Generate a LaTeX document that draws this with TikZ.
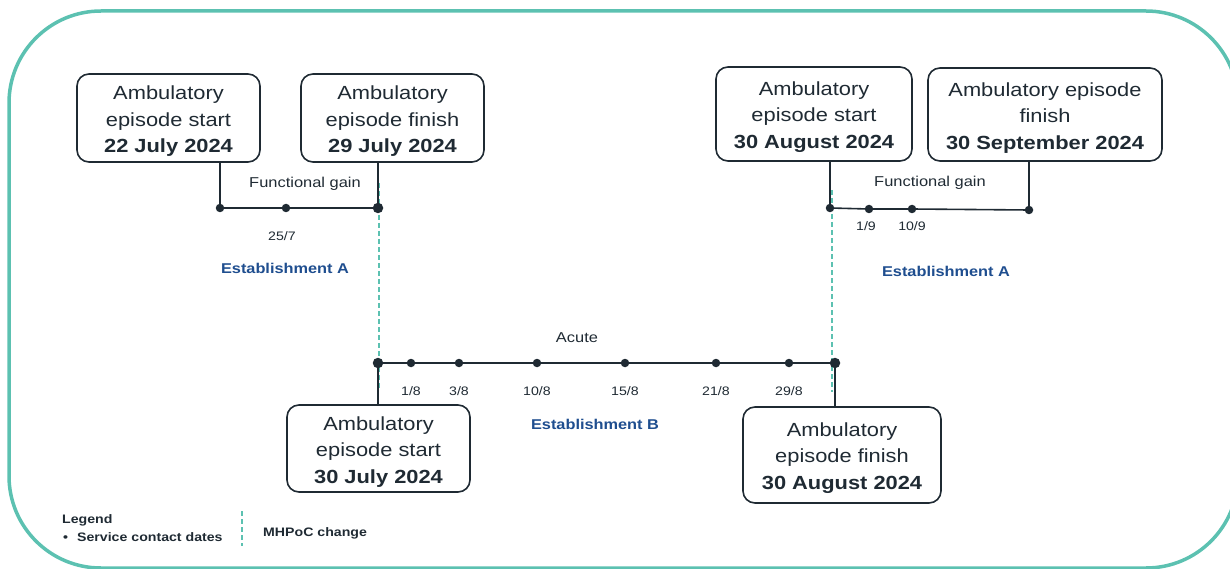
\documentclass[tikz,border=0pt]{standalone}
\usepackage{fontspec}
\setmainfont{Liberation Sans}[FakeStretch=1.15]
\definecolor{ink}{HTML}{1F2A33}
\definecolor{estblue}{HTML}{1F4E8F}
\definecolor{teal}{HTML}{5CC1B1}
\newcommand{\toppad}{\rule{0pt}{20pt}}
\begin{document}
\begin{tikzpicture}[x=1pt,y=-1pt,
  epbox/.style={draw=ink, line width=1.6pt, rounded corners=12pt, align=center,
    text=ink, inner sep=2pt, font=\fontsize{19}{26.5}\selectfont},
  dot/.style={circle, fill=ink, inner sep=0pt, minimum size=8.5pt},
  bigdot/.style={circle, fill=ink, inner sep=0pt, minimum size=10.5pt},
  tline/.style={draw=ink, line width=1.6pt},
  mhpoc/.style={draw=teal, line width=1.6pt, dash pattern=on 5pt off 3pt},
  datelbl/.style={text=ink, font=\fontsize{12.3}{14}\selectfont, inner sep=0pt},
  phaselbl/.style={text=ink, font=\fontsize{14.3}{17}\selectfont, inner sep=0pt},
  estlbl/.style={text=estblue, font=\bfseries\fontsize{14.2}{17}\selectfont, inner sep=0pt},
  legendtxt/.style={text=ink, font=\bfseries\fontsize{12.3}{14}\selectfont, inner sep=0pt, anchor=west}
]
\useasboundingbox (0,0) rectangle (1230,569);
\clip (0,0) rectangle (1230,569);
% outer frame
\draw[teal, line width=3.5pt, rounded corners=92pt] (9,11) rectangle (1238,568);

% boxes
\node[epbox, minimum width=183pt, minimum height=88pt] (b1) at (168.5,118) {\toppad Ambulatory\\episode start\\\textbf{22 July 2024}};
\node[epbox, minimum width=183pt, minimum height=88pt] (b2) at (392.5,118) {\toppad Ambulatory\\episode finish\\\textbf{29 July 2024}};
\node[epbox, minimum width=196pt, minimum height=94pt] (b3) at (814,114) {\toppad Ambulatory\\episode start\\\textbf{30 August 2024}};
\node[epbox, minimum width=234pt, minimum height=93pt] (b4) at (1045,114.5) {\toppad Ambulatory episode\\finish\\\textbf{30 September 2024}};
\node[epbox, minimum width=183pt, minimum height=87pt] (b5) at (378.5,448.5) {\toppad Ambulatory\\episode start\\\textbf{30 July 2024}};
\node[epbox, minimum width=198pt, minimum height=96pt] (b6) at (842,455) {\toppad Ambulatory\\episode finish\\\textbf{30 August 2024}};

% MHPoC change lines
\coordinate (m1a) at (379,183);
\coordinate (m1b) at (379,390);
\coordinate (m2a) at (832,190);
\coordinate (m2b) at (832,392);
\draw[mhpoc] (m1a) -- (m1b);
\draw[mhpoc] (m2a) -- (m2b);

% timeline 1
\node[dot] (a1) at (220,208) {};
\node[dot] (a2) at (286,208) {};
\node[bigdot] (a3) at (378,208) {};
\draw[tline] (b1.south -| a1) -- (a1.center) -- (a3.center) -- (b2.south -| a3);
\node[phaselbl] (fg1) at (305,184) {Functional gain};
\node[datelbl] (l257) at (282,236) {25/7};
\node[estlbl] (estA1) at (285,268) {Establishment A};

% timeline 2 (right)
\node[dot] (c1) at (830,208) {};
\node[dot] (c2) at (869,209) {};
\node[dot] (c3) at (912,209) {};
\node[dot] (c4) at (1029,210) {};
\draw[tline] (b3.south -| c1) -- (c1.center) -- (c2.center) -- (c3.center) -- (c4.center) -- (b4.south -| c4);
\node[phaselbl] (fg2) at (930,183) {Functional gain};
\node[datelbl] (l19) at (866,226) {1/9};
\node[datelbl] (l109) at (912,226) {10/9};
\node[estlbl] (estA2) at (946,271) {Establishment A};

% middle timeline
\node[bigdot] (e0) at (378,363) {};
\node[dot] (e1) at (411,363) {};
\node[dot] (e2) at (459,363) {};
\node[dot] (e3) at (537,363) {};
\node[dot] (e4) at (625,363) {};
\node[dot] (e5) at (716,363) {};
\node[dot] (e6) at (789,363) {};
\node[bigdot] (e7) at (835,363) {};
\draw[tline] (b5.north -| e0) -- (e0.center) -- (e7.center) -- (b6.north -| e7);
\node[datelbl] at (411,391) {1/8};
\node[datelbl] at (459,391) {3/8};
\node[datelbl] at (537,391) {10/8};
\node[datelbl] at (625,391) {15/8};
\node[datelbl] at (716,391) {21/8};
\node[datelbl] at (789,391) {29/8};
\node[phaselbl] (acute) at (577,338) {Acute};
\node[estlbl] (estB) at (595,424) {Establishment B};

% legend
\node[legendtxt] (leg) at (62,520) {Legend};
\node[legendtxt] (leg1) at (63,537) {\textbullet\hspace{9pt}Service contact dates};
\coordinate (lg1) at (242,511);
\coordinate (lg2) at (242,546);
\draw[mhpoc] (lg1) -- (lg2);
\node[legendtxt] (leg2) at (263,533) {MHPoC change};
\end{tikzpicture}
\end{document}
